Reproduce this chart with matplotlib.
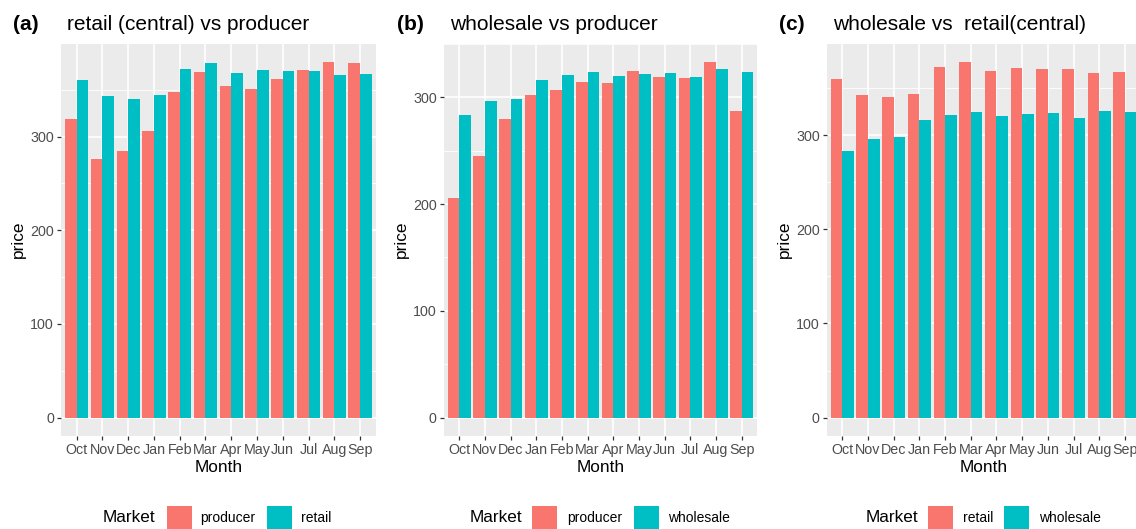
import matplotlib
matplotlib.use("Agg")
import matplotlib.pyplot as plt
from matplotlib.patches import Rectangle
import numpy as np

# ---- data -------------------------------------------------------------
months = ["Oct", "Nov", "Dec", "Jan", "Feb", "Mar", "Apr", "May", "Jun", "Jul", "Aug", "Sep"]

producer_a = [319, 276, 285, 306, 348, 369, 354, 351, 361, 371, 380, 379]
retail = [360, 343, 340, 344, 372, 378, 368, 371, 370, 370, 366, 367]
producer_b = [206, 245, 280, 302, 307, 314, 313, 325, 319, 318, 333, 287]
wholesale = [283, 296, 298, 316, 321, 324, 320, 322, 323, 318.5, 326, 324]

y_ticks = [0, 100, 200, 300]
y_minor = [50, 150, 250, 350]

# ---- style ------------------------------------------------------------
RED = "#F8766D"
CYAN = "#00BFC4"
PANEL_BG = "#EBEBEB"
FONT = "Liberation Sans"
plt.rcParams["font.family"] = [FONT, "DejaVu Sans"]

W, H = 1136, 529
DPI = 100
fig = plt.figure(figsize=(W / DPI, H / DPI), dpi=DPI)
fig.patch.set_facecolor("white")


def add_axes_px(left, top, right, bottom):
    return fig.add_axes([left / W, 1 - bottom / H, (right - left) / W, (bottom - top) / H])


def ftext(x, y, s, **kw):
    fig.text(x / W, 1 - y / H, s, **kw)


def panel(box, s1, s2, tag, tag_x, title, title_x, labels, legend_x):
    left, top, right, bottom = box
    ax = add_axes_px(left, top, right, bottom)
    x = np.arange(len(months))
    ax.bar(x - 0.225, s1, width=0.45, color=RED, linewidth=0, zorder=3)
    ax.bar(x + 0.225, s2, width=0.45, color=CYAN, linewidth=0, zorder=3)

    peak = max(max(s1), max(s2))
    ax.set_ylim(-0.05 * peak, 1.05 * peak)
    ax.set_xlim(-0.6, len(months) - 0.4)

    ax.set_facecolor(PANEL_BG)
    for sp in ax.spines.values():
        sp.set_visible(False)
    ax.set_xticks(x)
    ax.set_xticklabels(months)
    ax.set_yticks(y_ticks)
    ax.set_yticks(y_minor, minor=True)
    ax.grid(True, which="major", color="white", linewidth=1.2, zorder=0)
    ax.grid(True, which="minor", axis="y", color="white", linewidth=0.6, zorder=0)
    ax.set_axisbelow(True)
    ax.tick_params(which="major", length=2.75, width=0.9, color="#333333",
                   labelcolor="#4D4D4D", labelsize=10.3, pad=2.4)
    ax.tick_params(which="minor", length=0)

    # titles
    ftext(tag_x, 25, tag, fontsize=15, fontweight="bold", ha="left", va="center", color="black")
    ftext(title_x, 25, title, fontsize=15, ha="left", va="center", color="black")

    # axis titles
    cx = (left + right) / 2
    ftext(cx, 468, "Month", fontsize=12.4, ha="center", va="center", color="black")
    ftext(18.5 + (left - 61.2), (top + bottom) / 2, "price", fontsize=12.4,
          rotation=90, ha="center", va="center", color="black")

    # legend at bottom
    lx, k1x, t1x, k2x, t2x = legend_x
    ftext(lx, 518, "Market", fontsize=12.3, ha="left", va="center", color="black")
    for kx, col in ((k1x, RED), (k2x, CYAN)):
        fig.patches.append(Rectangle((kx / W, 1 - 530.5 / H), 25 / W, 25 / H,
                                     transform=fig.transFigure, facecolor=col,
                                     edgecolor="none"))
    ftext(t1x, 518, labels[0], fontsize=10, ha="left", va="center", color="black")
    ftext(t2x, 518, labels[1], fontsize=10, ha="left", va="center", color="black")
    return ax


panel((61.2, 43.8, 375.5, 435.5), producer_a, retail, "(a)", 13,
      "retail (central) vs producer", 67, ("producer", "retail"),
      (103, 166.5, 200.5, 266.5, 301.5))
panel((443.9, 43.8, 757.1, 435.5), producer_b, wholesale, "(b)", 396.5,
      "wholesale vs producer", 450, ("producer", "wholesale"),
      (470, 532, 567.5, 633.5, 668))
panel((826.9, 43.8, 1140.4, 435.5), retail, wholesale, "(c)", 778.5,
      "wholesale vs  retail(central)", 833, ("retail", "wholesale"),
      (866, 928, 963, 1004, 1039))

fig.savefig("out.png", dpi=DPI)
